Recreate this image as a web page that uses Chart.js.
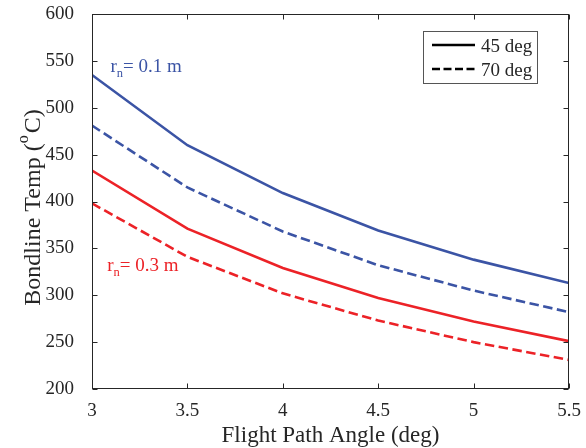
<!DOCTYPE html>
<html>
<head>
<meta charset="utf-8">
<script src="https://cdn.jsdelivr.net/npm/chart.js@4/dist/chart.umd.min.js"></script>
<style>
  html, body { margin: 0; padding: 0; background: #ffffff; }
  #wrap { width: 586px; height: 448px; }
</style>
</head>
<body>
<div id="wrap"><canvas id="c" width="586" height="448"></canvas></div>
<script>
// Flight path angle (deg) on the x axis
const angles = [3, 3.5, 4, 4.5, 5, 5.5];

// Bondline temperature (deg C), nose radius 0.1 m
const r01_45deg = [535, 460, 409, 369, 338, 313];
const r01_70deg = [481, 415, 368, 332, 305, 282];

// Bondline temperature (deg C), nose radius 0.3 m
const r03_45deg = [433, 371, 329, 297, 272, 251];
const r03_70deg = [398, 341, 302, 273, 250, 231];

// Axis ticks
const xTickValues = [3, 3.5, 4, 4.5, 5, 5.5];
const yTickValues = [200, 250, 300, 350, 400, 450, 500, 550, 600];

// Legend entries (line style = sweep angle)
const legendLabels = ['45 deg', '70 deg'];

const BLUE = '#3b54a5';
const RED = '#ec2227';
const INK = '#262626';
const SERIF = '"Liberation Serif", "Times New Roman", serif';
const DASH = [9.5, 4.5];

const toPoints = ys => angles.map((x, i) => ({ x: x, y: ys[i] }));

function series(label, ys, color, dashed) {
  return {
    label: label,
    data: toPoints(ys),
    borderColor: color,
    backgroundColor: color,
    borderWidth: 2.6,
    borderDash: dashed ? DASH : [],
    pointRadius: 0,
    tension: 0,
    fill: false
  };
}

// Frame, inward ticks, y title with superscript, curve labels and legend
const decorations = {
  id: 'decorations',
  afterDraw(chart) {
    const ctx = chart.ctx;
    const a = chart.chartArea;
    const xs = chart.scales.x, ys = chart.scales.y;
    const L = Math.round(a.left) + 0.5, R = Math.round(a.right) - 0.5;
    const T = Math.round(a.top) + 0.5, B = Math.round(a.bottom) - 0.5;
    const tick = 5;

    ctx.save();
    ctx.strokeStyle = INK;
    ctx.lineWidth = 1;
    ctx.setLineDash([]);
    ctx.strokeRect(L, T, R - L, B - T);
    ctx.beginPath();
    xTickValues.forEach(v => {
      const px = Math.round(xs.getPixelForValue(v)) + 0.5;
      ctx.moveTo(px, B); ctx.lineTo(px, B - tick);
      ctx.moveTo(px, T); ctx.lineTo(px, T + tick);
    });
    yTickValues.forEach(v => {
      const py = Math.round(ys.getPixelForValue(v)) + 0.5;
      ctx.moveTo(L, py); ctx.lineTo(L + tick, py);
      ctx.moveTo(R, py); ctx.lineTo(R - tick, py);
    });
    ctx.stroke();

    // y-axis title: Bondline Temp (°C) with a raised "o"
    ctx.fillStyle = INK;
    ctx.textBaseline = 'alphabetic';
    ctx.textAlign = 'left';
    const mainFont = '24px ' + SERIF, supFont = '16px ' + SERIF;
    const p1 = 'Bondline Temp (', p2 = 'o', p3 = 'C)';
    ctx.font = mainFont;
    const w1 = ctx.measureText(p1).width, w3 = ctx.measureText(p3).width;
    ctx.font = supFont;
    const w2 = ctx.measureText(p2).width;
    const gap = 2;
    const total = w1 + w2 + gap + w3;
    ctx.translate(40, 207.5);
    ctx.rotate(-Math.PI / 2);
    let cx = -total / 2;
    ctx.font = mainFont; ctx.fillText(p1, cx, 0); cx += w1;
    ctx.font = supFont; ctx.fillText(p2, cx, -12.5); cx += w2 + gap;
    ctx.font = mainFont; ctx.fillText(p3, cx, 0);
    ctx.setTransform(1, 0, 0, 1, 0, 0);

    // curve group labels: r_n = ...
    function rLabel(x, y, text, color) {
      ctx.fillStyle = color;
      ctx.font = '19px ' + SERIF;
      ctx.fillText('r', x, y);
      const wr = ctx.measureText('r').width;
      ctx.font = '12.5px ' + SERIF;
      ctx.fillText('n', x + wr, y + 5);
      const wn = ctx.measureText('n').width;
      ctx.font = '19px ' + SERIF;
      ctx.fillText(text, x + wr + wn, y);
    }
    rLabel(xs.getPixelForValue(3.097), ys.getPixelForValue(538), '= 0.1 m', BLUE);
    rLabel(xs.getPixelForValue(3.08), ys.getPixelForValue(326), '= 0.3 m', RED);

    // legend box in the upper right
    const bx = 423.5, by = 31.5, bw = 114, bh = 52;
    ctx.fillStyle = '#ffffff';
    ctx.fillRect(bx, by, bw, bh);
    ctx.strokeStyle = '#555555';
    ctx.lineWidth = 1;
    ctx.strokeRect(bx, by, bw, bh);
    const rows = [45, 69];
    legendLabels.forEach((lab, i) => {
      ctx.strokeStyle = '#000000';
      ctx.lineWidth = 2.6;
      ctx.setLineDash(i === 0 ? [] : [8, 3.5]);
      ctx.beginPath();
      ctx.moveTo(432, rows[i]);
      ctx.lineTo(475, rows[i]);
      ctx.stroke();
      ctx.setLineDash([]);
      ctx.fillStyle = INK;
      ctx.font = '19px ' + SERIF;
      ctx.fillText(lab, 481, rows[i] + 6.5);
    });
    ctx.restore();
  }
};

new Chart(document.getElementById('c'), {
  type: 'line',
  data: {
    datasets: [
      series('r_n = 0.1 m, 45 deg', r01_45deg, BLUE, false),
      series('r_n = 0.1 m, 70 deg', r01_70deg, BLUE, true),
      series('r_n = 0.3 m, 45 deg', r03_45deg, RED, false),
      series('r_n = 0.3 m, 70 deg', r03_70deg, RED, true)
    ]
  },
  options: {
    responsive: false,
    devicePixelRatio: 1,
    animation: false,
    layout: { padding: { left: 0, right: 17, top: 14, bottom: 0 } },
    plugins: {
      legend: { display: false },
      tooltip: { enabled: false },
      title: { display: false }
    },
    scales: {
      x: {
        type: 'linear',
        min: 3,
        max: 5.5,
        afterBuildTicks: s => { s.ticks = xTickValues.map(v => ({ value: v })); },
        afterFit: s => { s.height = 59; s.paddingLeft = 0; s.paddingRight = 0; },
        grid: { display: false },
        border: { display: false },
        ticks: {
          autoSkip: false,
          maxRotation: 0,
          padding: 3,
          color: INK,
          font: { family: SERIF, size: 19 },
          callback: v => String(v)
        },
        title: {
          display: true,
          text: 'Flight Path Angle (deg)',
          color: INK,
          font: { family: SERIF, size: 23, lineHeight: 1 },
          padding: { top: 0, bottom: 1 }
        }
      },
      y: {
        type: 'linear',
        min: 200,
        max: 600,
        afterBuildTicks: s => { s.ticks = yTickValues.map(v => ({ value: v })); },
        afterFit: s => { s.width = 92; s.paddingTop = 0; s.paddingBottom = 0; },
        grid: { display: false },
        border: { display: false },
        ticks: {
          autoSkip: false,
          padding: 10,
          color: INK,
          font: { family: SERIF, size: 19 },
          callback: v => String(v)
        }
      }
    }
  },
  plugins: [decorations]
});
</script>
</body>
</html>
